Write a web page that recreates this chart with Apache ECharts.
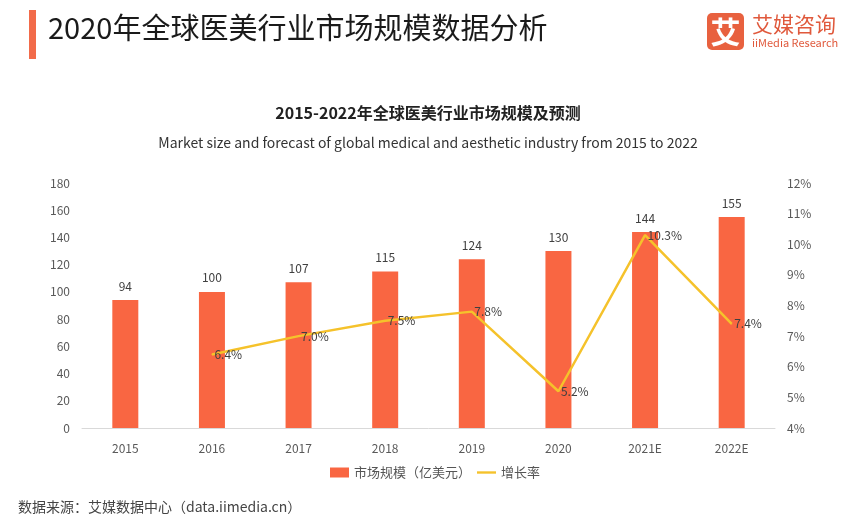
<!DOCTYPE html>
<html>
<head>
<meta charset="utf-8">
<script src="https://cdn.jsdelivr.net/npm/echarts@6/dist/echarts.min.js"></script>
<style>
  html, body { margin: 0; padding: 0; background: #fff; }
  #chart-container { width: 856px; height: 528px; }
</style>
</head>
<body>
<div id="chart-container"></div>
<script>
var years = ['2015', '2016', '2017', '2018', '2019', '2020', '2021E', '2022E'];
var marketSize = [94, 100, 107, 115, 124, 130, 144, 155];
var growthRate = [null, 6.4, 7.0, 7.5, 7.8, 5.2, 10.3, 7.4];

var dom = document.getElementById('chart-container');
var myChart = echarts.init(dom, null, { renderer: 'canvas' });
var font = '"Noto Sans CJK SC", "Noto Sans", sans-serif';

var option = {
  backgroundColor: '#fff',
  textStyle: { fontFamily: font },
  title: [
    {
      text: '2015-2022年全球医美行业市场规模及预测',
      left: 'center', top: 100,
      textStyle: { fontSize: 16, fontWeight: 'bold', color: '#222', fontFamily: font }
    },
    {
      text: 'Market size and forecast of global medical and aesthetic industry from 2015 to 2022',
      left: 'center', top: 131,
      textStyle: { fontSize: 14, fontWeight: 'normal', color: '#333', fontFamily: font }
    }
  ],
  graphic: [
    { type: 'rect', shape: { x: 29, y: 10, width: 7, height: 49 }, style: { fill: '#F26B4A' } },
    { type: 'text', left: 48, top: 13,
      style: { text: '2020年全球医美行业市场规模数据分析', fontSize: 29, fill: '#1a1a1a', fontFamily: font } },
    { type: 'rect', shape: { x: 707, y: 13, width: 37, height: 37, r: 5 }, style: { fill: '#E8613F' } },
    { type: 'text', x: 725.5, y: 31.5,
      style: { text: '艾', fontSize: 30, fontWeight: 'bold', fill: '#fff', align: 'center', verticalAlign: 'middle', fontFamily: font } },
    { type: 'text', x: 752, y: 14,
      style: { text: '艾媒咨询', fontSize: 21, fill: '#E0593C', fontFamily: font } },
    { type: 'text', x: 752, y: 37,
      style: { text: 'iiMedia Research', fontSize: 11, fill: '#E0593C', fontFamily: font } },
    { type: 'text', left: 18, top: 500,
      style: { text: '数据来源：艾媒数据中心（data.iimedia.cn）', fontSize: 14, fill: '#444', fontFamily: font } }
  ],
  legend: {
    bottom: 44,
    left: 325,
    itemGap: 6,
    itemWidth: 19,
    itemHeight: 10,
    textStyle: { fontSize: 13, color: '#555', fontFamily: font },
    data: [
      { name: '市场规模（亿美元）', icon: 'rect' },
      { name: '增长率', icon: 'path://M0,0 L20,0 L20,2.5 L0,2.5 Z' }
    ]
  },
  grid: { left: 82, right: 81, top: 183, bottom: 100 },
  xAxis: {
    type: 'category',
    data: years,
    axisTick: { show: false },
    axisLine: { lineStyle: { color: '#d9d9d9' } },
    axisLabel: { color: '#595959', fontSize: 12, margin: 14 }
  },
  yAxis: [
    {
      type: 'value', min: 0, max: 180, interval: 20,
      splitLine: { show: false },
      axisLine: { show: false },
      axisLabel: { color: '#595959', fontSize: 12, margin: 12 }
    },
    {
      type: 'value', min: 4, max: 12, interval: 1,
      splitLine: { show: false },
      axisLine: { show: false },
      axisLabel: { color: '#595959', fontSize: 12, margin: 12, formatter: '{value}%' }
    }
  ],
  series: [
    {
      name: '市场规模（亿美元）',
      type: 'bar',
      data: marketSize,
      barWidth: 26,
      itemStyle: { color: '#F96642' },
      label: { show: true, position: 'top', distance: 8, color: '#404040', fontSize: 12 }
    },
    {
      name: '增长率',
      type: 'line',
      yAxisIndex: 1,
      data: growthRate,
      symbol: 'circle',
      symbolSize: 1,
      lineStyle: { color: '#F5C22B', width: 2.5 },
      itemStyle: { color: '#F5C22B' },
      label: {
        show: true, position: 'right', distance: 2, color: '#404040', fontSize: 12,
        formatter: function (p) { return p.value.toFixed(1) + '%'; }
      }
    }
  ]
};

myChart.setOption(option);
window.addEventListener('resize', myChart.resize);
</script>
</body>
</html>
